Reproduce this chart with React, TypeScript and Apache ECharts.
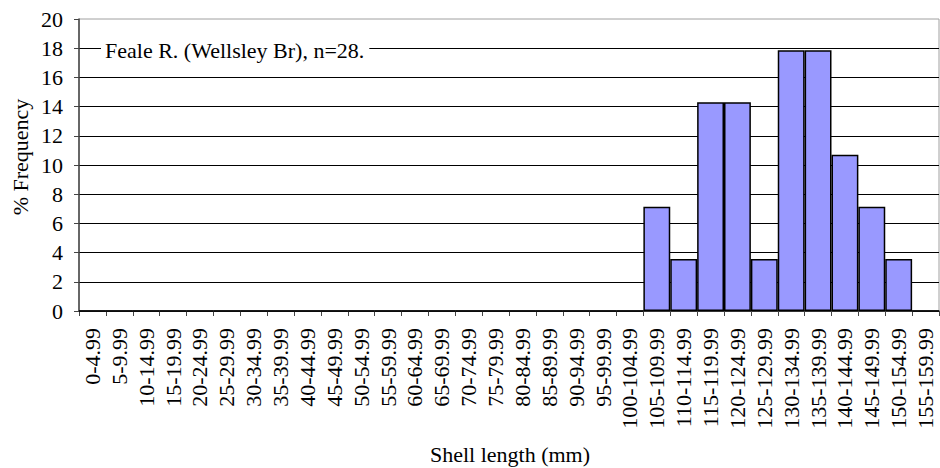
import React, { useEffect, useRef } from "react";
import * as echarts from "echarts";

const categories = [
  "0-4.99", "5-9.99", "10-14.99", "15-19.99", "20-24.99", "25-29.99", "30-34.99", "35-39.99",
  "40-44.99", "45-49.99", "50-54.99", "55-59.99", "60-64.99", "65-69.99", "70-74.99", "75-79.99",
  "80-84.99", "85-89.99", "90-94.99", "95-99.99", "100-104.99", "105-109.99", "110-114.99", "115-119.99",
  "120-124.99", "125-129.99", "130-134.99", "135-139.99", "140-144.99", "145-149.99", "150-154.99", "155-159.99",
];

const frequency = [
  0, 0, 0, 0, 0, 0, 0, 0,
  0, 0, 0, 0, 0, 0, 0, 0,
  0, 0, 0, 0, 0, 7.14, 3.57, 14.29,
  14.29, 3.57, 17.86, 17.86, 10.71, 7.14, 3.57, 0,
];

const yTicks = { min: 0, max: 20, interval: 2 };
const yTitle = "% Frequency";
const xTitle = "Shell length (mm)";
const annotation = "Feale R. (Wellsley Br), n=28.";

const FONT = "Liberation Serif";

export default function App() {
  const ref = useRef<HTMLDivElement>(null);
  useEffect(() => {
    if (!ref.current) return;
    const chart = echarts.init(ref.current, null, { renderer: "svg" });
    chart.setOption({
      animation: false,
      backgroundColor: "#fff",
      textStyle: { fontFamily: FONT, fontSize: 22, color: "#000" },
      grid: {
        left: 79,
        right: 1,
        top: 19,
        bottom: 157,
        show: true,
        borderColor: "#a0a0a0",
        borderWidth: 1,
        backgroundColor: "transparent",
      },
      xAxis: {
        type: "category",
        data: categories,
        boundaryGap: true,
        axisLine: { show: true, lineStyle: { color: "#444", width: 1.5 } },
        axisTick: { show: true, length: 5, alignWithLabel: false, lineStyle: { color: "#444", width: 1 } },
        axisLabel: {
          interval: 0,
          rotate: 90,
          margin: 17,
          fontSize: 22,
          fontFamily: FONT,
          color: "#000",
        },
        splitLine: { show: false },
      },
      yAxis: {
        type: "value",
        min: yTicks.min,
        max: yTicks.max,
        interval: yTicks.interval,
        axisLine: { show: true, lineStyle: { color: "#444", width: 1.5 } },
        axisTick: { show: true, length: 5, lineStyle: { color: "#444", width: 1 } },
        axisLabel: { margin: 16, fontSize: 22, fontFamily: FONT, color: "#000" },
        splitLine: { show: true, showMaxLine: false, lineStyle: { color: "#000", width: 1 } },
      },
      series: [
        {
          type: "bar",
          data: frequency,
          barCategoryGap: "0%",
          itemStyle: { color: "#9999FF", borderColor: "#000", borderWidth: 1.5 },
        },
      ],
      graphic: [
        {
          type: "text",
          x: 20,
          y: 157,
          rotation: Math.PI / 2,
          style: {
            text: yTitle,
            fontSize: 22,
            fontFamily: FONT,
            fill: "#000",
            textAlign: "center",
            textVerticalAlign: "middle",
          },
        },
        {
          type: "text",
          x: 510,
          y: 454,
          style: {
            text: xTitle,
            fontSize: 22,
            fontFamily: FONT,
            fill: "#000",
            textAlign: "center",
            textVerticalAlign: "middle",
          },
        },
        {
          type: "text",
          x: 101,
          y: 50,
          z: 100,
          style: {
            text: annotation,
            fontSize: 22,
            fontFamily: FONT,
            fill: "#000",
            textAlign: "left",
            textVerticalAlign: "middle",
            backgroundColor: "#fff",
            padding: [2, 5, 2, 4],
          },
        },
      ],
    });
    return () => chart.dispose();
  }, []);
  return (
    <div
      ref={ref}
      style={{ position: "fixed", left: 0, top: 0, width: 940, height: 468, background: "#fff" }}
    />
  );
}
